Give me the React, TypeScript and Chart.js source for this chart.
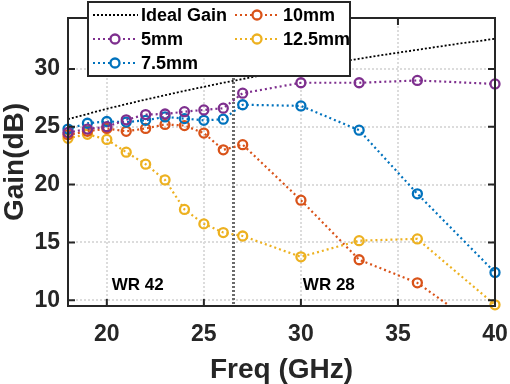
import React, { useEffect, useRef } from 'react';
import { Chart, registerables } from 'chart.js';

Chart.register(...registerables);

const freq = [18, 19, 20, 21, 22, 23, 24, 25, 26, 27, 30, 33, 36, 40];
const gain5mm = [24.5, 24.8, 25.0, 25.6, 26.05, 26.1, 26.3, 26.45, 26.6, 27.9, 28.8, 28.8, 29.0, 28.7];
const gain7p5mm = [24.8, 25.3, 25.45, 25.4, 25.55, 25.85, 25.7, 25.55, 25.65, 26.9, 26.8, 24.7, 19.2, 12.4];
const gain10mm = [24.3, 24.6, 24.85, 24.6, 24.85, 25.2, 25.1, 24.45, 23.0, 23.45, 18.65, 13.5, 11.5, 6.7];
const gain12p5mm = [24.0, 24.35, 23.9, 22.8, 21.76, 20.4, 17.85, 16.6, 15.85, 15.55, 13.75, 15.15, 15.3, 9.6];
const idealFreq = [18, 20, 22, 24, 26, 28, 30, 32, 34, 36, 38, 40];
const idealGain = [25.65, 26.55, 27.35, 28.1, 28.8, 29.45, 30.05, 30.6, 31.15, 31.65, 32.15, 32.6];
const seriesLabels = ['Ideal Gain', '5mm', '7.5mm', '10mm', '12.5mm'];
const xTicks = [20, 25, 30, 35, 40];
const yTicks = [10, 15, 20, 25, 30];
const bandEdge = 26.5;
const bandLabels = ['WR 42', 'WR 28'];
const bandLabelX = [20.25, 30.1];
const bandLabelY = 11.3;

const FONT = '"Liberation Sans", Arial, Helvetica, sans-serif';
const TEXT = '#262626';

const toPts = (xs: number[], ys: number[]) => xs.map((x, i) => ({ x, y: ys[i] }));

const customPlugin = {
  id: 'customDecor',
  beforeDatasetsDraw(chart: any) {
    const { ctx, chartArea: a, scales } = chart;
    const x = scales.x;
    const y = scales.y;
    ctx.save();
    ctx.strokeStyle = '#6b6b6b';
    ctx.lineWidth = 3;
    ctx.setLineDash([2, 2]);
    const px = Math.round(x.getPixelForValue(bandEdge)) + 0.5;
    ctx.beginPath();
    ctx.moveTo(px, a.top);
    ctx.lineTo(px, a.bottom);
    ctx.stroke();
    ctx.setLineDash([]);
    ctx.fillStyle = '#000';
    ctx.font = `bold 17px ${FONT}`;
    ctx.textBaseline = 'middle';
    ctx.textAlign = 'left';
    bandLabels.forEach((t, i) => {
      ctx.fillText(t, x.getPixelForValue(bandLabelX[i]), y.getPixelForValue(bandLabelY));
    });
    ctx.restore();
  },
  afterDraw(chart: any) {
    const { ctx, chartArea: a, scales } = chart;
    const x = scales.x;
    const y = scales.y;
    ctx.save();
    ctx.strokeStyle = TEXT;
    ctx.lineWidth = 2;
    ctx.setLineDash([]);
    ctx.strokeRect(a.left, a.top, a.right - a.left, a.bottom - a.top);
    const tl = 7;
    ctx.beginPath();
    xTicks.forEach((v) => {
      const p = x.getPixelForValue(v);
      ctx.moveTo(p, a.bottom);
      ctx.lineTo(p, a.bottom - tl);
      ctx.moveTo(p, a.top);
      ctx.lineTo(p, a.top + tl);
    });
    yTicks.forEach((v) => {
      const p = y.getPixelForValue(v);
      ctx.moveTo(a.left, p);
      ctx.lineTo(a.left + tl, p);
      ctx.moveTo(a.right, p);
      ctx.lineTo(a.right - tl, p);
    });
    ctx.stroke();

    // legend
    const bx = 88, by = 2, bw = 262, bh = 74;
    ctx.fillStyle = '#fff';
    ctx.fillRect(bx, by, bw, bh);
    ctx.strokeStyle = TEXT;
    ctx.lineWidth = 2;
    ctx.strokeRect(bx, by, bw, bh);
    const colX = [93, 235];
    const rowY = [15, 39, 63];
    chart.data.datasets.forEach((ds: any, i: number) => {
      const col = i < 3 ? 0 : 1;
      const row = i < 3 ? i : i - 3;
      const x0 = colX[col];
      const yy = rowY[row];
      ctx.strokeStyle = ds.borderColor;
      ctx.lineWidth = ds.borderWidth;
      ctx.setLineDash(ds.borderDash || []);
      ctx.beginPath();
      ctx.moveTo(x0, yy);
      ctx.lineTo(x0 + 45, yy);
      ctx.stroke();
      ctx.setLineDash([]);
      if (ds.pointRadius > 0) {
        ctx.beginPath();
        ctx.arc(x0 + 22, yy, ds.pointRadius, 0, Math.PI * 2);
        ctx.fillStyle = '#fff';
        ctx.fill();
        ctx.lineWidth = ds.pointBorderWidth;
        ctx.strokeStyle = ds.borderColor;
        ctx.stroke();
      }
      ctx.fillStyle = '#000';
      ctx.font = `bold 18px ${FONT}`;
      ctx.textBaseline = 'middle';
      ctx.textAlign = 'left';
      ctx.fillText(ds.label, x0 + 48, yy + 1);
    });
    ctx.restore();
  },
};

const series = (label: string, color: string, ys: number[], clip: any) => ({
  label,
  data: toPts(freq, ys),
  borderColor: color,
  backgroundColor: '#fff',
  borderWidth: 2.2,
  borderDash: [2, 3],
  pointRadius: 4.5,
  pointBorderWidth: 2.3,
  pointBackgroundColor: 'rgba(255,255,255,0)',
  pointBorderColor: color,
  tension: 0,
  clip,
});

export default function App() {
  const ref = useRef<HTMLCanvasElement>(null);
  useEffect(() => {
    if (!ref.current) return;
    const chart = new Chart(ref.current, {
      type: 'line',
      data: {
        datasets: [
          {
            label: seriesLabels[0],
            data: toPts(idealFreq, idealGain),
            borderColor: '#000',
            borderWidth: 1.8,
            borderDash: [2, 2],
            pointRadius: 0,
            tension: 0,
          } as any,
          series(seriesLabels[1], '#7E2F8E', gain5mm, false),
          series(seriesLabels[2], '#0072BD', gain7p5mm, false),
          series(seriesLabels[3], '#D95319', gain10mm, { left: 10, top: 10, right: 10, bottom: 0 }),
          series(seriesLabels[4], '#EDB120', gain12p5mm, false),
        ],
      },
      options: {
        animation: false,
        responsive: true,
        maintainAspectRatio: false,
        layout: { padding: { top: 18, right: 15, left: 0, bottom: 0 } },
        plugins: { legend: { display: false }, tooltip: { enabled: false } },
        scales: {
          x: {
            type: 'linear',
            min: 18,
            max: 40,
            afterBuildTicks: (s: any) => {
              s.ticks = xTicks.map((v) => ({ value: v }));
            },
            afterFit: (s: any) => {
              s.height = 78;
              s.paddingLeft = 0;
              s.paddingRight = 0;
            },
            grid: { color: '#dcdcdc', lineWidth: 2, drawTicks: false },
            border: { display: false, dash: [2, 2] },
            ticks: {
              color: TEXT,
              padding: 15,
              maxRotation: 0,
              font: { family: FONT, size: 23, weight: 'bold' },
            },
            title: {
              display: true,
              text: 'Freq (GHz)',
              color: TEXT,
              font: { family: FONT, size: 28, weight: 'bold', lineHeight: 1 },
              padding: { top: 0, bottom: 0 },
            },
          },
          y: {
            type: 'linear',
            min: 9.5,
            max: 34.4,
            afterBuildTicks: (s: any) => {
              s.ticks = yTicks.map((v) => ({ value: v }));
            },
            afterFit: (s: any) => {
              s.width = 68;
              s.paddingTop = 0;
              s.paddingBottom = 0;
            },
            grid: { color: '#dcdcdc', lineWidth: 2, drawTicks: false },
            border: { display: false, dash: [2, 2] },
            ticks: {
              color: TEXT,
              padding: 8,
              font: { family: FONT, size: 23, weight: 'bold' },
            },
            title: {
              display: true,
              text: 'Gain(dB)',
              color: TEXT,
              font: { family: FONT, size: 28, weight: 'bold', lineHeight: 1 },
              padding: { top: 1, bottom: 0 },
            },
          },
        },
      } as any,
      plugins: [customPlugin as any],
    });
    return () => chart.destroy();
  }, []);
  return (
    <div style={{ position: 'fixed', left: 0, top: 0, width: 510, height: 384, background: '#fff' }}>
      <canvas ref={ref} />
    </div>
  );
}
